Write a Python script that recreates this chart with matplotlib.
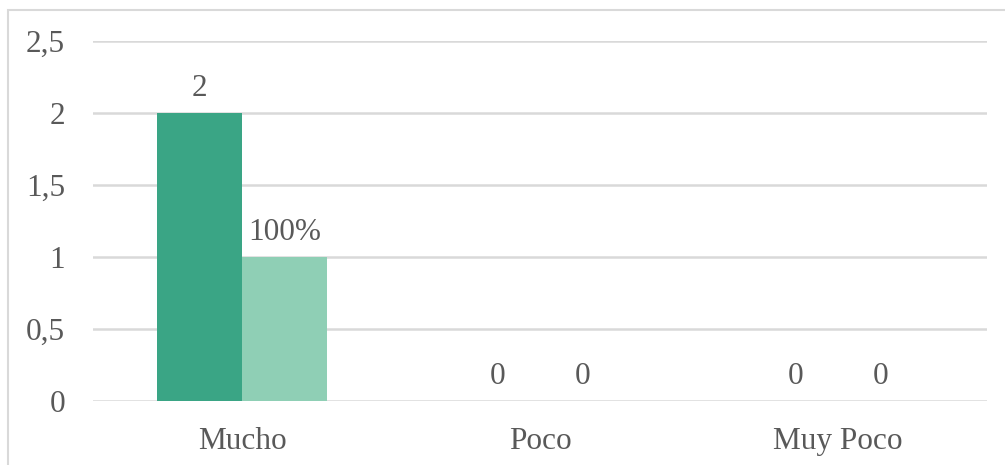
import matplotlib
matplotlib.use('Agg')
import matplotlib.pyplot as plt
import numpy as np
from matplotlib.patches import Rectangle

categories = ['Mucho', 'Poco', 'Muy Poco']
frecuencia = [2, 0, 0]
porcentaje = [1, 0, 0]
etiquetas_frec = ['2', '0', '0']
etiquetas_pct = ['100%', '0', '0']
yticks = [0, 0.5, 1, 1.5, 2, 2.5]

plt.rcParams['font.family'] = ['Liberation Serif', 'DejaVu Serif']
text_col = '#595959'
fs = 22.5

fig = plt.figure(figsize=(10.05, 4.65), dpi=100)
ax = fig.add_axes([0.0925, 0.1376, 0.8895, 0.7742])

x = np.arange(len(categories))
w = 0.285
b1 = ax.bar(x - w / 2, frecuencia, w, color='#3aa585', zorder=3)
b2 = ax.bar(x + w / 2, porcentaje, w, color='#8fcfb5', zorder=3)

for bars, labs in ((b1, etiquetas_frec), (b2, etiquetas_pct)):
    for r, lab in zip(bars, labs):
        ax.annotate(lab, (r.get_x() + r.get_width() / 2, r.get_height()),
                    xytext=(0, 7.5), textcoords='offset points',
                    ha='center', va='bottom', fontsize=fs, color=text_col)

ax.set_xlim(-0.5, len(categories) - 0.5)
ax.set_ylim(0, 2.5)
ax.set_yticks(yticks)
ax.set_yticklabels([('%g' % v).replace('.', ',') for v in yticks])
ax.set_xticks(x)
ax.set_xticklabels(categories)
ax.tick_params(axis='both', length=0, labelsize=fs, labelcolor=text_col)
ax.tick_params(axis='y', pad=20)
ax.tick_params(axis='x', pad=19)
ax.grid(axis='y', color='#d9d9d9', linewidth=1.8, zorder=0)
for s in ax.spines.values():
    s.set_visible(False)

fig.patches.append(Rectangle((8 / 1005, -0.05), 1.1, 1 - 10 / 465 + 0.05,
                             transform=fig.transFigure, fill=False,
                             edgecolor='#d9d9d9', linewidth=1.5))

fig.savefig('out.png', dpi=100)
